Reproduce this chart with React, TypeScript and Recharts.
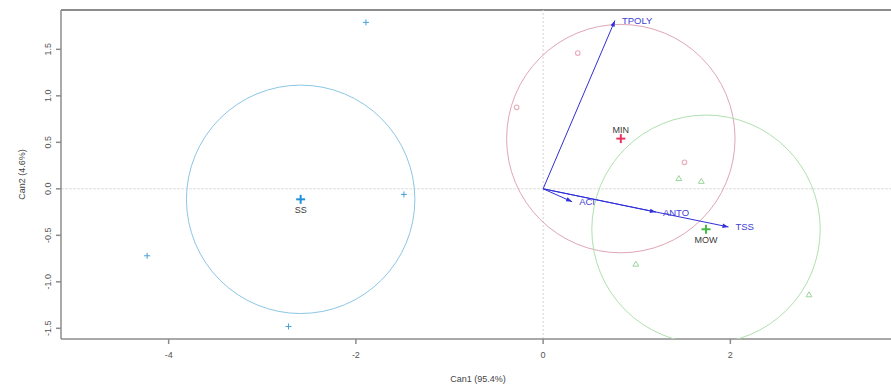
import React from 'react';
import { ScatterChart, Scatter, XAxis, YAxis, ReferenceLine, ReferenceDot } from 'recharts';

// canonical scores per group
const ssX = [-1.893, -1.487, -4.23, -2.72];
const ssY = [1.79, -0.06, -0.72, -1.48];
const minX = [0.37, -0.283, 1.51];
const minY = [1.46, 0.876, 0.285];
const mowX = [1.45, 1.69, 0.99, 2.84];
const mowY = [0.11, 0.08, -0.81, -1.14];

// group means and confidence circles
const groupNames = ['SS', 'MIN', 'MOW'];
const groupX = [-2.59, 0.83, 1.74];
const groupY = [-0.113, 0.54, -0.435];
const groupRadius = [1.22, 1.22, 1.22];

// structure coefficients (variable vectors)
const varNames = ['TPOLY', 'ACI', 'ANTO', 'TSS'];
const varX = [0.767, 0.31, 1.205, 1.98];
const varY = [1.81, -0.139, -0.25, -0.41];

const xTicks = [-4, -2, 0, 2];
const yTicks = [-1.5, -1.0, -0.5, 0.0, 0.5, 1.0, 1.5];

const X_MIN = -5.15;
const X_MAX = 3.716;
const Y_MIN = -1.615;
const Y_MAX = 1.923;

const W = 891;
const H = 387;
const Y_AXIS_W = 61;
const X_AXIS_H = 48;
const TOP = 10;
const PLOT_W = W - Y_AXIS_W;
const PLOT_H = H - TOP - X_AXIS_H;
const PX_X = PLOT_W / (X_MAX - X_MIN);
const PX_Y = PLOT_H / (Y_MAX - Y_MIN);

const FONT = '"Liberation Sans", Arial, sans-serif';
const ARROW = '#3030d8';

const colors = {
  SS: { pt: '#45a2dc', mean: '#2291dc', ring: '#8cc6e4' },
  MIN: { pt: '#e9adbc', mean: '#e8355f', ring: '#e0a6b5' },
  MOW: { pt: '#9ad69a', mean: '#45b845', ring: '#b0e0b0' },
};

const zip = (xs: number[], ys: number[]) => xs.map((x, i) => ({ x, y: ys[i] }));

const ssData = zip(ssX, ssY);
const minData = zip(minX, minY);
const mowData = zip(mowX, mowY);
const means = groupNames.map((name, i) => ({ name, x: groupX[i], y: groupY[i] }));

const Plus = ({ cx, cy, size, color, width }: any) => (
  <g>
    <line x1={cx - size} y1={cy} x2={cx + size} y2={cy} stroke={color} strokeWidth={width} />
    <line x1={cx} y1={cy - size} x2={cx} y2={cy + size} stroke={color} strokeWidth={width} />
  </g>
);

const OpenCircle = ({ cx, cy }: any) => (
  <circle cx={cx} cy={cy} r={2.3} fill="none" stroke={colors.MIN.pt} strokeWidth={1.1} />
);

const Triangle = ({ cx, cy }: any) => (
  <polygon
    points={`${cx},${cy - 3} ${cx - 2.9},${cy + 2} ${cx + 2.9},${cy + 2}`}
    fill="none"
    stroke={colors.MOW.pt}
    strokeWidth={1}
  />
);

const MeanMark = ({ cx, cy, payload }: any) => {
  const c = (colors as any)[payload.name];
  const above = payload.name === 'MIN';
  return (
    <g>
      <Plus cx={cx} cy={cy} size={4.5} color={c.mean} width={2} />
      <text
        x={cx}
        y={above ? cy - 6 : cy + 14}
        textAnchor="middle"
        fontSize={9}
        fontFamily={FONT}
        fill="#3a3a3a"
      >
        {payload.name}
      </text>
    </g>
  );
};

const ArrowHead = ({ cx, cy, payload }: any) => {
  if (!payload.name) return <g />;
  const a = Math.atan2(-payload.y * PX_Y, payload.x * PX_X);
  const len = 6;
  const half = 2.2;
  const bx = cx - len * Math.cos(a);
  const by = cy - len * Math.sin(a);
  const p1 = `${bx - half * Math.sin(a)},${by + half * Math.cos(a)}`;
  const p2 = `${bx + half * Math.sin(a)},${by - half * Math.cos(a)}`;
  return (
    <g>
      <polygon points={`${cx},${cy} ${p1} ${p2}`} fill={ARROW} />
      <text x={cx + 7} y={cy + 3.5} fontSize={9.5} fontFamily={FONT} fill="#4040d4">
        {payload.name}
      </text>
    </g>
  );
};

const YTick = ({ x, y, payload }: any) => (
  <text
    x={x - 3}
    y={y}
    transform={`rotate(-90 ${x - 3} ${y})`}
    textAnchor="middle"
    fontSize={9}
    fontFamily={FONT}
    fill="#555"
  >
    {payload.value.toFixed(1)}
  </text>
);

const App: React.FC = () => {
  return (
    <div style={{ position: 'absolute', left: 0, top: 0, width: W, height: H, background: '#fff' }}>
      <ScatterChart width={W} height={H} margin={{ top: TOP, right: 0, bottom: 0, left: 0 }}>
        <XAxis
          type="number"
          dataKey="x"
          domain={[X_MIN, X_MAX]}
          ticks={xTicks}
          allowDataOverflow
          height={X_AXIS_H}
          stroke="#8c8c8c"
          strokeWidth={1.5}
          tickSize={5}
          tickMargin={8}
          tick={{ fill: '#555', fontSize: 9, fontFamily: FONT }}
          label={{
            content: ({ viewBox }: any) => (
              <text
                x={viewBox.x + viewBox.width / 2 + 2}
                y={viewBox.y + 43}
                textAnchor="middle"
                fontSize={9}
                fontFamily={FONT}
                fill="#444"
              >
                Can1 (95.4%)
              </text>
            ),
          }}
        />
        <YAxis
          type="number"
          dataKey="y"
          domain={[Y_MIN, Y_MAX]}
          ticks={yTicks}
          allowDataOverflow
          width={Y_AXIS_W}
          stroke="#8c8c8c"
          strokeWidth={1.5}
          tickSize={5}
          tickMargin={2}
          tick={<YTick />}
          label={{
            content: ({ viewBox }: any) => {
              const cx = 25;
              const cy = viewBox.y + viewBox.height / 2;
              return (
                <text
                  x={cx}
                  y={cy}
                  transform={`rotate(-90 ${cx} ${cy})`}
                  textAnchor="middle"
                  fontSize={9}
                  fontFamily={FONT}
                  fill="#444"
                >
                  Can2 (4.6%)
                </text>
              );
            },
          }}
        />

        {/* frame top and zero lines */}
        <ReferenceLine y={Y_MAX} stroke="#8c8c8c" strokeWidth={2} ifOverflow="extendDomain" />
        <ReferenceLine x={0} stroke="#d2d2d2" strokeDasharray="2 2" />
        <ReferenceLine y={0} stroke="#dedede" strokeDasharray="3 1" />

        {groupNames.map((g, i) => (
          <ReferenceDot
            key={g}
            x={groupX[i]}
            y={groupY[i]}
            r={groupRadius[i] * PX_X}
            fill="none"
            stroke={(colors as any)[g].ring}
            strokeWidth={1}
            ifOverflow="hidden"
          />
        ))}

        <Scatter
          data={ssData}
          isAnimationActive={false}
          shape={(p: any) => <Plus cx={p.cx} cy={p.cy} size={3} color={colors.SS.pt} width={1} />}
        />
        <Scatter data={minData} isAnimationActive={false} shape={<OpenCircle />} />
        <Scatter data={mowData} isAnimationActive={false} shape={<Triangle />} />

        {varNames.map((v, i) => (
          <Scatter
            key={v}
            data={[{ x: 0, y: 0 }, { x: varX[i], y: varY[i], name: v }]}
            line={{ stroke: ARROW, strokeWidth: 1 }}
            lineType="joint"
            isAnimationActive={false}
            shape={<ArrowHead />}
          />
        ))}

        <Scatter data={means} isAnimationActive={false} shape={<MeanMark />} />
      </ScatterChart>
    </div>
  );
};

export default App;
